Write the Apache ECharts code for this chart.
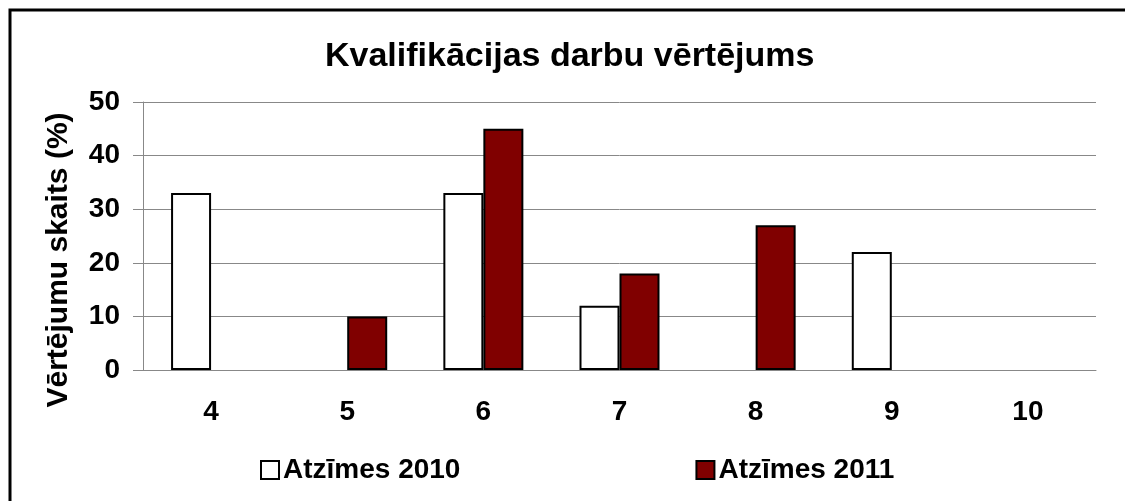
<!DOCTYPE html>
<html>
<head>
<meta charset="utf-8">
<script src="https://cdn.jsdelivr.net/npm/echarts@6/dist/echarts.min.js"></script>
<style>
  html, body { margin: 0; padding: 0; background: #fff; }
  #main { width: 1125px; height: 501px; }
</style>
</head>
<body>
<div id="main"></div>
<script>
// atzīmes (kategorijas)
const grades = ["4", "5", "6", "7", "8", "9", "10"];
// vērtējumu skaits (%)
const marks2010 = [33, 0, 33, 12, 0, 22, 0];
const marks2011 = [0, 10, 45, 18, 27, 0, 0];
const yTicks = [0, 10, 20, 30, 40, 50];

const font = "'Liberation Sans', Arial, sans-serif";

// nulles stabiņus nezīmē
const noZero = (arr) => arr.map((v) => (v === 0 ? "-" : v));

var myChart = echarts.init(document.getElementById("main"));
var option = {
  backgroundColor: "#fff",
  animation: false,
  title: {
    text: "Kvalifikācijas darbu vērtējums",
    left: 320,
    top: 35,
    textStyle: {
      fontFamily: font,
      fontSize: 34,
      fontWeight: "bold",
      color: "#000",
    },
  },
  graphic: [
    {
      type: "rect",
      shape: { x: 10, y: 10, width: 1130, height: 510 },
      style: { fill: "none", stroke: "#000", lineWidth: 3 },
      z: 100,
    },
    // y ass nosaukums
    {
      type: "text",
      x: 59,
      y: 260,
      rotation: Math.PI / 2,
      style: {
        text: "Vērtējumu skaits (%)",
        fontFamily: font,
        fontSize: 30,
        fontWeight: "bold",
        fill: "#000",
        align: "center",
        verticalAlign: "middle",
      },
    },
  ],
  grid: {
    left: 143,
    right: 29,
    top: 102,
    bottom: 131,
  },
  legend: {
    left: 255,
    top: 451,
    icon: "rect",
    itemWidth: 18,
    itemHeight: 18,
    itemGap: 235,
    textStyle: {
      fontFamily: font,
      fontSize: 28,
      fontWeight: "bold",
      color: "#000",
      padding: [0, 0, 0, -1],
    },
  },
  xAxis: {
    type: "category",
    data: grades,
    axisLine: { lineStyle: { color: "#888", width: 1 } },
    axisTick: { show: false },
    axisLabel: {
      margin: 28,
      fontFamily: font,
      fontSize: 28,
      fontWeight: "bold",
      color: "#000",
    },
  },
  yAxis: {
    type: "value",
    min: yTicks[0],
    max: yTicks[yTicks.length - 1],
    interval: 10,
    axisLine: { show: true, lineStyle: { color: "#888", width: 1 } },
    axisTick: { show: true, length: 10, lineStyle: { color: "#888" } },
    splitLine: { lineStyle: { color: "#888", width: 1 } },
    axisLabel: {
      margin: 23,
      fontFamily: font,
      fontSize: 28,
      fontWeight: "bold",
      color: "#000",
    },
  },
  series: [
    {
      name: "Atzīmes 2010",
      type: "bar",
      data: noZero(marks2010),
      barWidth: 40,
      barGap: "0%",
      itemStyle: { color: "#fff", borderColor: "#000", borderWidth: 2 },
    },
    {
      name: "Atzīmes 2011",
      type: "bar",
      data: noZero(marks2011),
      barWidth: 40,
      barGap: "0%",
      itemStyle: { color: "#800000", borderColor: "#000", borderWidth: 2 },
    },
  ],
};
myChart.setOption(option);
</script>
</body>
</html>
